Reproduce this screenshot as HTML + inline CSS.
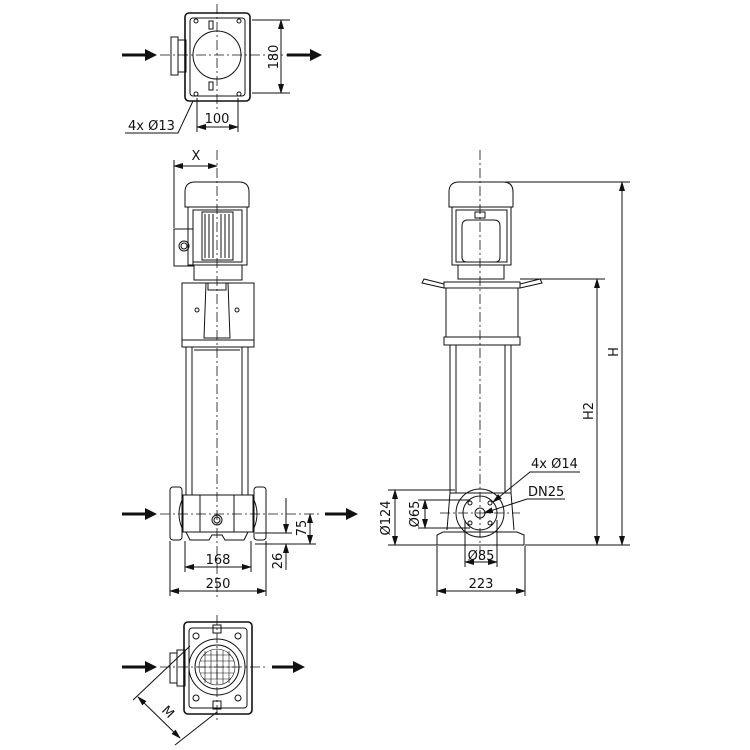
<!DOCTYPE html>
<html><head><meta charset="utf-8"><style>
html,body{margin:0;padding:0;background:#fff}
svg{display:block}
text{font-family:"DejaVu Sans","Liberation Sans",sans-serif;font-size:13px;fill:#111}
</style></head><body>
<svg width="750" height="750" viewBox="0 0 750 750" xmlns="http://www.w3.org/2000/svg">
<defs>
<marker id="a" markerWidth="10" markerHeight="6" refX="9" refY="3" orient="auto" markerUnits="userSpaceOnUse"><path d="M0,0 L10,3 L0,6 Z" fill="#111"/></marker>
<marker id="b" markerWidth="10" markerHeight="6" refX="1" refY="3" orient="auto" markerUnits="userSpaceOnUse"><path d="M10,0 L0,3 L10,6 Z" fill="#111"/></marker>
</defs>
<g stroke="#111" fill="none" stroke-width="1">

<!-- ===== TOP VIEW ===== -->
<rect x="185" y="13" width="65" height="88" rx="4" stroke-width="1.6"/>
<rect x="190" y="18" width="55" height="78" rx="3"/>
<circle cx="217" cy="55" r="24"/>
<rect x="178" y="40" width="8" height="32"/>
<rect x="171" y="37" width="7" height="38"/>
<rect x="209" y="21" width="4" height="8"/><rect x="209" y="82" width="4" height="8"/>
<circle cx="196" cy="21" r="2"/><circle cx="239" cy="21" r="2"/><circle cx="196" cy="94" r="2"/><circle cx="239" cy="94" r="2"/>
<path d="M217 4 V110 M160 55 H300" stroke-dasharray="10,3,2,3" stroke-width="0.8"/>
<path d="M252 20 H290 M252 93 H290"/>
<path d="M281 20 V93" marker-start="url(#b)" marker-end="url(#a)"/>
<path d="M197 98 V132 M238 98 V132"/>
<path d="M197 127 H238" marker-start="url(#b)" marker-end="url(#a)"/>
<path d="M125 133 H178 L193 101"/>

<!-- ===== FRONT VIEW ===== -->
<path d="M217 150 V600" stroke-dasharray="10,3,2,3" stroke-width="0.8"/>
<path d="M174 160 V228"/>
<path d="M174 166 H217" marker-start="url(#b)" marker-end="url(#a)"/>
<path d="M185 207 V192 Q185 182 195 182 H239 Q249 182 249 192 V207 Z"/>
<rect x="188" y="207" width="59" height="58"/>
<rect x="193" y="210" width="49" height="52"/>
<rect x="202" y="212" width="31" height="48"/>
<path d="M205 214 V258 M209 214 V258 M213 214 V258 M221 214 V258 M225 214 V258 M229 214 V258"/>
<rect x="174" y="229" width="19" height="37"/>
<circle cx="184" cy="246" r="5"/><circle cx="184" cy="246" r="3"/>
<rect x="194" y="265" width="48" height="15"/>
<rect x="182" y="283" width="72" height="57"/>
<rect x="182" y="340" width="72" height="7"/>
<path d="M206 283 L204 338 H230 L228 283 Z"/>
<rect x="208" y="283" width="18" height="7"/>
<circle cx="197" cy="310" r="2"/><circle cx="237" cy="310" r="2"/>
<path d="M186 347 V495 M192 347 V495 M242 347 V495 M248 347 V495 M194 350 H240"/>
<rect x="183" y="495" width="70" height="37"/>
<path d="M186 532 L190 540 H209 L212 535 H222 L225 540 H244 L248 532"/>
<path d="M200 495 V532 M234 495 V532"/>
<rect x="170" y="487" width="12" height="53" rx="3"/>
<rect x="254" y="487" width="12" height="53" rx="3"/>
<path d="M182 500 Q176 514 182 528 M254 500 Q260 514 254 528"/>
<circle cx="217" cy="520" r="5"/><circle cx="217" cy="520" r="3"/>
<path d="M160 514 H320" stroke-dasharray="10,3,2,3" stroke-width="0.8"/>
<path d="M185 541 V572 M251 541 V572 M170 541 V596 M266 541 V596"/>
<path d="M185 567 H251" marker-start="url(#b)" marker-end="url(#a)"/>
<path d="M170 591 H266" marker-start="url(#b)" marker-end="url(#a)"/>
<path d="M255 533 H292 M255 544 H316"/>
<path d="M310 514 V544" marker-start="url(#b)" marker-end="url(#a)"/>
<path d="M286 498 V533" marker-end="url(#a)"/>
<path d="M286 570 V544" marker-end="url(#a)"/>

<!-- ===== SIDE VIEW ===== -->
<path d="M480 150 V560" stroke-dasharray="10,3,2,3" stroke-width="0.8"/>
<path d="M449 207 V192 Q449 182 459 182 H503 Q513 182 513 192 V207 Z"/>
<rect x="452" y="207" width="59" height="58"/>
<rect x="456" y="210" width="51" height="52"/>
<path d="M462 226 Q462 220 468 220 H494 Q500 220 500 226 V257 Q500 262 495 262 H467 Q462 262 462 257 Z"/>
<rect x="475" y="212" width="10" height="6"/>
<rect x="458" y="265" width="46" height="14"/>
<rect x="444" y="282" width="76" height="6"/>
<path d="M444 284 L424 279 L422 283 L444 288 M520 284 L540 279 L542 283 L520 288"/>
<rect x="446" y="288" width="72" height="49"/>
<rect x="444" y="337" width="76" height="8"/>
<path d="M450 345 V493 M456 345 V493 M505 345 V493 M511 345 V493"/>
<path d="M450 493 H511 L514 530 M450 493 L447 530"/>
<path d="M437 545 V535 L443 532 H517 L524 535 V545 Z"/>
<circle cx="480" cy="513" r="24"/>
<circle cx="480" cy="513" r="17"/>
<circle cx="480" cy="513" r="5"/>
<circle cx="470" cy="503" r="2"/><circle cx="490" cy="503" r="2"/><circle cx="470" cy="523" r="2"/><circle cx="490" cy="523" r="2"/>
<path d="M440 513 H520" stroke-dasharray="10,3,2,3" stroke-width="0.8"/>
<path d="M505 182 H630 M520 279 H605 M525 545 H630"/>
<path d="M622 182 V545" marker-start="url(#b)" marker-end="url(#a)"/>
<path d="M597 279 V545" marker-start="url(#b)" marker-end="url(#a)"/>
<path d="M388 490 H455 M388 545 H437 M418 500 H470 M418 528 H470"/>
<path d="M395 490 V545" marker-start="url(#b)" marker-end="url(#a)"/>
<path d="M425 500 V528" marker-start="url(#b)" marker-end="url(#a)"/>
<path d="M465 520 V567 M497 520 V567 M437 546 V596 M525 546 V596"/>
<path d="M465 562 H497" marker-start="url(#b)" marker-end="url(#a)"/>
<path d="M437 591 H525" marker-start="url(#b)" marker-end="url(#a)"/>
<path d="M580 472 H530 L493 502" marker-end="url(#a)"/>
<path d="M565 499 H527 L484 513" marker-end="url(#a)"/>

<!-- ===== BOTTOM VIEW ===== -->
<rect x="184" y="622" width="68" height="92" rx="4" stroke-width="1.6"/>
<rect x="189" y="628" width="58" height="80" rx="3"/>
<circle cx="217" cy="667" r="28"/>
<circle cx="217" cy="667" r="22"/>
<circle cx="217" cy="667" r="18" stroke-width="0.6"/>
<path d="M203 655 H231 M200 661 H234 M200 667 H234 M200 673 H234 M203 679 H231 M205 651 V683 M211 650 V684 M217 649 V685 M223 650 V684 M229 651 V683" stroke-width="0.6"/>
<rect x="213" y="625" width="8" height="8"/><rect x="213" y="701" width="8" height="8"/>
<circle cx="196" cy="636" r="3"/><circle cx="238" cy="636" r="3"/><circle cx="196" cy="698" r="3"/><circle cx="238" cy="698" r="3"/>
<rect x="177" y="650" width="8" height="36"/>
<rect x="170" y="653" width="7" height="30"/>
<path d="M217 615 V722 M160 667 H265" stroke-dasharray="10,3,2,3" stroke-width="0.8"/>
<path d="M190 646 L133 700 M217 712 L175 745"/>
<path d="M138 697 L180 738" marker-start="url(#b)" marker-end="url(#a)"/>
</g>

<!-- arrows (bold flow) -->
<g fill="#111">
<path d="M122 53.5 H145 V49 L157 55 L145 61 V56.5 H122 Z"/>
<path d="M287 53.5 H310 V49 L322 55 L310 61 V56.5 H287 Z"/>
<path d="M122 512.5 H145 V508 L157 514 L145 520 V515.5 H122 Z"/>
<path d="M325 512.5 H346 V508 L358 514 L346 520 V515.5 H325 Z"/>
<path d="M122 665.5 H145 V661 L157 667 L145 673 V668.5 H122 Z"/>
<path d="M272 665.5 H293 V661 L305 667 L293 673 V668.5 H272 Z"/>
</g>

<!-- text -->
<text x="278" y="57" transform="rotate(-90 278 57)" text-anchor="middle">180</text>
<text x="217" y="123" text-anchor="middle">100</text>
<text x="128" y="130">4x Ø13</text>
<text x="196" y="160" text-anchor="middle">X</text>
<text x="218" y="564" text-anchor="middle">168</text>
<text x="218" y="588" text-anchor="middle">250</text>
<text x="306" y="528" transform="rotate(-90 306 528)" text-anchor="middle">75</text>
<text x="282" y="561" transform="rotate(-90 282 561)" text-anchor="middle">26</text>
<text x="618" y="352" transform="rotate(-90 618 352)" text-anchor="middle">H</text>
<text x="593" y="411" transform="rotate(-90 593 411)" text-anchor="middle">H2</text>
<text x="531" y="468">4x Ø14</text>
<text x="528" y="496">DN25</text>
<text x="390" y="518" transform="rotate(-90 390 518)" text-anchor="middle">Ø124</text>
<text x="419" y="514" transform="rotate(-90 419 514)" text-anchor="middle">Ø65</text>
<text x="481" y="560" text-anchor="middle">Ø85</text>
<text x="481" y="588" text-anchor="middle">223</text>
<text x="165" y="715" transform="rotate(45 165 715)" text-anchor="middle">M</text>
</svg>
</body></html>
